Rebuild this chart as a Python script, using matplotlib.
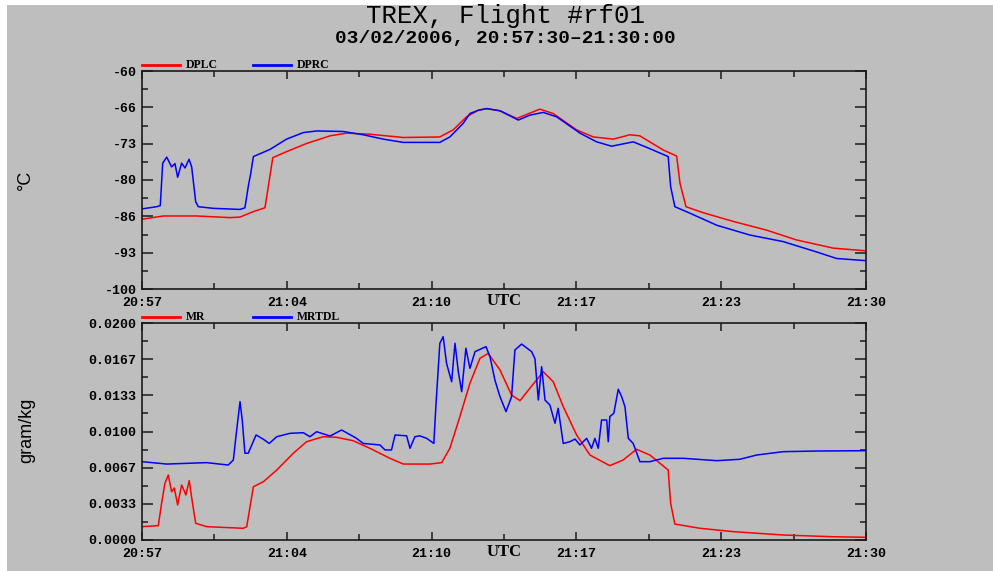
import matplotlib
matplotlib.use("Agg")
import matplotlib.pyplot as plt
from matplotlib.patches import Rectangle
from matplotlib.lines import Line2D
import numpy as np

# ---------------- data ----------------
title = "TREX, Flight #rf01"
subtitle = "03/02/2006, 20:57:30\u201321:30:00"

# time in minutes after 20:57:30
t_dprc = [0.0, 0.66, 0.82, 0.93, 1.11, 1.33, 1.48, 1.6, 1.78, 1.93, 2.11, 2.23, 2.41, 2.53,
          3.2, 4.4, 4.62, 4.77, 4.88, 5.0, 5.74, 6.49, 7.24, 7.84, 9.03, 9.93, 10.83, 11.73,
          13.37, 13.82, 14.42, 14.72, 15.1, 15.47, 16.07, 16.89, 17.41, 18.01, 18.61, 19.66,
          20.41, 21.08, 22.05, 22.65, 23.62, 23.73, 23.92, 24.6, 25.8, 27.29, 28.78, 30.28,
          31.18, 32.5]
v_dprc = [-85.3, -84.9, -84.7, -76.9, -75.8, -77.6, -77.0, -79.5, -76.9, -77.8, -76.2, -77.6,
          -84.0, -84.9, -85.2, -85.4, -85.1, -81.2, -78.8, -75.7, -74.4, -72.5, -71.3, -71.0,
          -71.1, -71.7, -72.5, -73.1, -73.1, -72.1, -69.6, -67.8, -67.2, -66.9, -67.3, -69.0,
          -68.1, -67.6, -68.4, -71.4, -73.0, -73.8, -73.0, -74.0, -75.7, -81.2, -84.9, -86.1,
          -88.3, -90.1, -91.3, -93.2, -94.4, -94.8]

t_dplc = [0.0, 0.96, 2.45, 3.95, 4.4, 5.0, 5.52, 5.67, 5.87, 6.49, 7.39, 8.44, 9.19, 10.23,
          11.73, 13.37, 13.97, 14.57, 15.1, 15.47, 16.07, 16.82, 17.86, 18.46, 19.51, 20.26,
          21.16, 21.9, 22.35, 23.4, 24.0, 24.15, 24.42, 25.19, 26.54, 28.04, 29.38, 31.03, 32.5]
v_dplc = [-87.2, -86.6, -86.6, -86.9, -86.8, -85.8, -85.1, -81.2, -75.9, -74.8, -73.3, -71.9,
          -71.4, -71.6, -72.2, -72.1, -70.8, -68.4, -67.2, -66.9, -67.3, -68.7, -67.0, -67.8,
          -70.8, -72.1, -72.5, -71.7, -71.9, -74.5, -75.6, -80.6, -84.9, -86.0, -87.6, -89.2,
          -91.0, -92.5, -93.0]

t_mrtdl = [0.0, 1.11, 2.9, 3.87, 4.1, 4.25, 4.4, 4.5, 4.62, 4.77, 5.12, 5.45, 5.71, 6.05, 6.64,
           7.24, 7.54, 7.84, 8.44, 8.96, 9.63, 9.93, 10.68, 10.91, 11.2, 11.36, 11.88, 12.03,
           12.25, 12.47, 12.78, 13.1, 13.2, 13.37, 13.52, 13.67, 13.9, 14.05, 14.2, 14.35,
           14.54, 14.72, 14.95, 15.44, 15.62, 15.84, 16.07, 16.34, 16.59, 16.74, 17.04, 17.49,
           17.64, 17.79, 17.94, 18.09, 18.31, 18.54, 18.68, 18.91, 19.21, 19.44, 19.66, 19.96,
           20.18, 20.33, 20.48, 20.63, 20.86, 20.93, 21.0, 21.18, 21.38, 21.53, 21.68, 21.83,
           22.05, 22.35, 22.8, 23.4, 24.3, 25.8, 26.84, 27.59, 28.78, 30.28, 32.5]
v_mrtdl = [0.00722, 0.0070, 0.00713, 0.00691, 0.00737, 0.01014, 0.01275, 0.01106, 0.0080,
           0.0080, 0.00968, 0.00928, 0.0089, 0.00952, 0.00983, 0.00989, 0.00952, 0.00998,
           0.00958, 0.01014, 0.00937, 0.0089, 0.00876, 0.0083, 0.0083, 0.00968, 0.0096,
           0.00845, 0.00952, 0.0096, 0.00937, 0.0089, 0.0126, 0.01813, 0.01874, 0.01628,
           0.01459, 0.01813, 0.0155, 0.01367, 0.01767, 0.01582, 0.01736, 0.01782, 0.0169,
           0.01475, 0.01321, 0.01183, 0.01321, 0.01751, 0.01806, 0.01736, 0.0167, 0.0129,
           0.01597, 0.0129, 0.01244, 0.01076, 0.01214, 0.0089, 0.00906, 0.0093, 0.00876,
           0.00937, 0.00845, 0.00937, 0.00845, 0.01106, 0.01106, 0.00906, 0.01137, 0.01168,
           0.01389, 0.01321, 0.01229, 0.00937, 0.0089, 0.00722, 0.00722, 0.00753, 0.00753,
           0.00731, 0.00744, 0.00783, 0.00814, 0.0082, 0.00823]

t_mr = [0.0, 0.73, 0.88, 1.03, 1.18, 1.33, 1.45, 1.6, 1.78, 1.97, 2.12, 2.23, 2.41, 2.9, 4.55,
        4.7, 4.85, 5.0, 5.45, 6.05, 6.79, 7.39, 8.14, 8.74, 9.48, 10.23, 11.13, 11.73, 12.93,
        13.45, 13.82, 14.27, 14.72, 15.17, 15.54, 16.07, 16.59, 16.97, 17.41, 18.01, 18.46,
        18.91, 19.51, 20.11, 21.0, 21.6, 22.2, 22.8, 23.62, 23.73, 23.92, 25.04, 26.54, 28.78,
        31.03, 32.5]
v_mr = [0.00123, 0.00132, 0.00338, 0.00523, 0.00599, 0.00445, 0.0048, 0.00323, 0.00507,
        0.00415, 0.00547, 0.0039, 0.00154, 0.00123, 0.00108, 0.00123, 0.00307, 0.00491,
        0.00537, 0.00645, 0.00799, 0.00906, 0.00952, 0.00946, 0.00915, 0.00845, 0.00753,
        0.0070, 0.0070, 0.00713, 0.00845, 0.01137, 0.01444, 0.01674, 0.0172, 0.01567, 0.01336,
        0.01284, 0.01398, 0.01551, 0.01459, 0.01229, 0.00968, 0.00783, 0.00685, 0.00737,
        0.00836, 0.00783, 0.00645, 0.00338, 0.00147, 0.00108, 0.00077, 0.00046, 0.0003, 0.00025]

x_tick_labels = ["20:57", "21:04", "21:10", "21:17", "21:23", "21:30"]
temp_tick_labels = ["-100", "-93", "-86", "-80", "-73", "-66", "-60"]
mr_tick_labels = ["0.0000", "0.0033", "0.0067", "0.0100", "0.0133", "0.0167", "0.0200"]

# ---------------- style ----------------
W, H = 993, 571
GRAY = "#bebebe"
MONO = "Liberation Mono"
SERIF = "Liberation Serif"

fig = plt.figure(figsize=(W / 100, H / 100), dpi=100, facecolor="white")
fig.patches.append(Rectangle((7 / W, 0), 1, (H - 5) / H, transform=fig.transFigure,
                             facecolor=GRAY, edgecolor="none", zorder=-10))


def fx(px):
    return px / W


def fy(py):
    return 1 - py / H


fig.text(fx(505), fy(16), title, ha="center", va="center", fontsize=18.5,
         family=MONO, color="black")
fig.text(fx(505), fy(38.5), subtitle, ha="center", va="center", fontsize=14,
         family=MONO, fontweight="bold", color="black")

ax1 = fig.add_axes([fx(142), fy(289), (866 - 142) / W, (289 - 71) / H])
ax2 = fig.add_axes([fx(142), fy(540), (866 - 142) / W, (540 - 323) / H])

xmax = 32.5
xmajor = np.linspace(0, xmax, 6)
xminor = np.linspace(0, xmax, 11)


def style(ax, ylo, yhi, ylabels):
    ax.set_facecolor(GRAY)
    ax.set_xlim(0, xmax)
    ax.set_ylim(ylo, yhi)
    ax.set_xticks(xmajor)
    ax.set_xticks(xminor, minor=True)
    ax.set_xticklabels(x_tick_labels)
    yt = np.linspace(ylo, yhi, 7)
    ax.set_yticks(yt)
    ax.set_yticks(np.linspace(ylo, yhi, 13), minor=True)
    ax.set_yticklabels(ylabels)
    for s in ax.spines.values():
        s.set_color("#1a1a1a")
        s.set_linewidth(1.2)
    ax.tick_params(axis="x", which="major", direction="in", length=6, width=1.1,
                   top=True, bottom=True, pad=6, color="#1a1a1a")
    ax.tick_params(axis="x", which="minor", direction="in", length=4, width=1.1,
                   top=True, bottom=True, color="#1a1a1a")
    ax.tick_params(axis="y", which="major", direction="in", length=8, width=1.1,
                   left=True, right=True, pad=4, color="#1a1a1a")
    ax.tick_params(axis="y", which="minor", direction="in", length=4.5, width=1.1,
                   left=True, right=True, color="#1a1a1a")
    for lab in ax.get_xticklabels() + ax.get_yticklabels():
        lab.set_family(MONO)
        lab.set_fontweight("bold")
        lab.set_fontsize(9.5)
    ax.text(xminor[5], -0.055, "UTC", transform=ax.get_xaxis_transform(), ha="center",
            va="center", fontsize=12, family=SERIF, fontweight="bold")


style(ax1, -100, -60, temp_tick_labels)
style(ax2, 0.0, 0.02, mr_tick_labels)

ax1.plot(t_dplc, v_dplc, color="#ff0000", lw=1.1)
ax1.plot(t_dprc, v_dprc, color="#0000ff", lw=1.1)
ax2.plot(t_mr, v_mr, color="#ff0000", lw=1.1)
ax2.plot(t_mrtdl, v_mrtdl, color="#0000ff", lw=1.1)


# legends drawn above each panel
def legend(ypx, names):
    for (x0, x1, xt, col, name) in [(142, 180, 186, "#ff0000", names[0]),
                                    (253, 291, 297, "#0000ff", names[1])]:
        fig.add_artist(Line2D([fx(x0), fx(x1)], [fy(ypx), fy(ypx)], color=col, lw=2.0,
                              transform=fig.transFigure))
        fig.text(fx(xt), fy(ypx), name, ha="left", va="center", fontsize=8.5,
                 family=SERIF, fontweight="bold")


legend(65, ["DPLC", "DPRC"])
legend(317, ["MR", "MRTDL"])

fig.text(25 / W, fy(180), "\u00b0C", rotation=90, ha="center", va="center", fontsize=13,
         family="Liberation Sans")
fig.text(27 / W, fy(430), "gram/kg", rotation=90, ha="center", va="center", fontsize=13,
         family="Liberation Sans")

fig.savefig("out.png", dpi=100, facecolor="white")
